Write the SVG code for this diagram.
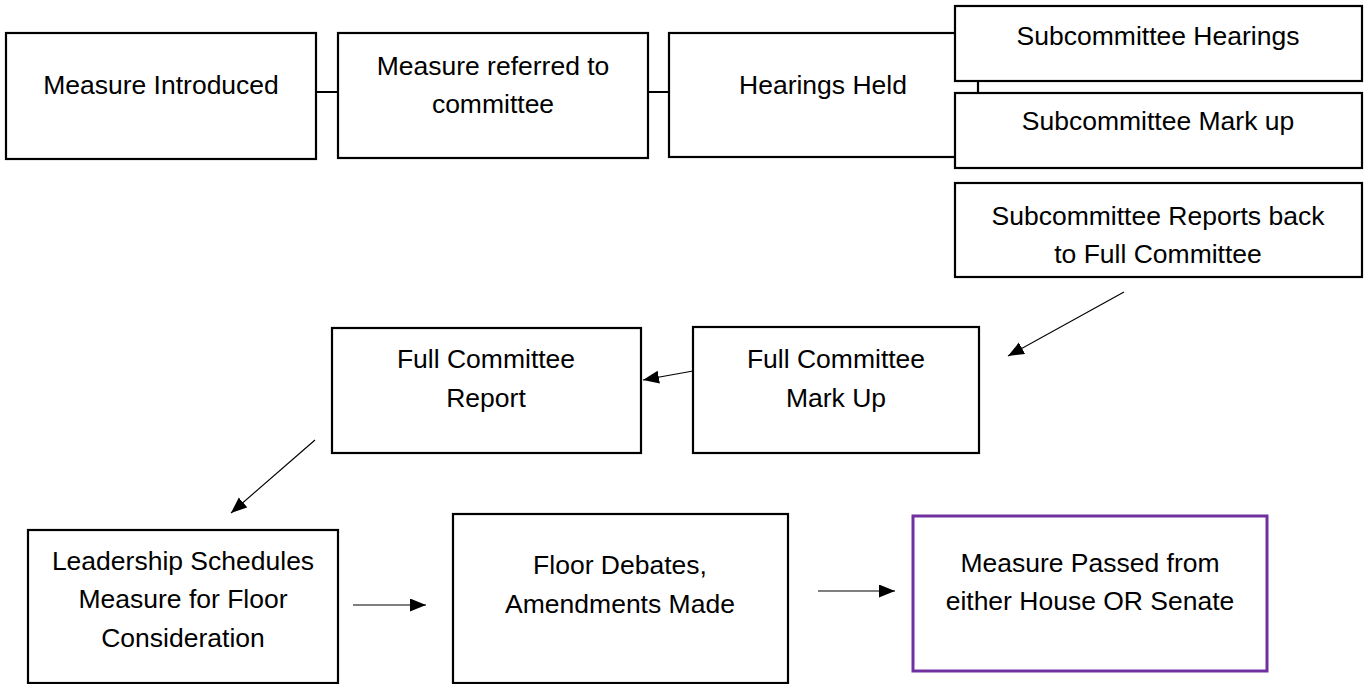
<svg xmlns="http://www.w3.org/2000/svg" width="1364" height="684" viewBox="0 0 1364 684">
<style>
.box{fill:#fff;stroke:#000;stroke-width:2.2}
.pbox{fill:#fff;stroke:#7030A0;stroke-width:3}
.t{font-family:"Liberation Sans",Arial,sans-serif;font-size:26.5px;fill:#000;text-anchor:middle}
.c{stroke:#000;stroke-width:2;fill:none}
.a{stroke:#000;stroke-width:1.2;fill:none;marker-end:url(#ah)}
</style>
<defs>
<marker id="ah" markerUnits="userSpaceOnUse" markerWidth="18" markerHeight="14" refX="16" refY="6.5" orient="auto">
<path d="M0,0 L16,6.5 L0,13 Z" fill="#000"/>
</marker>
</defs>
<g id="connectors">
<line class="c" x1="316" y1="92" x2="338" y2="92"/>
<line class="c" x1="648" y1="92" x2="669" y2="92"/>
<line class="a" x1="1124" y1="292" x2="1008" y2="356"/>
<line class="a" x1="693" y1="371" x2="643" y2="380"/>
<line class="a" x1="315" y1="440" x2="231" y2="513"/>
<line class="a" x1="353" y1="605" x2="426" y2="605"/>
<line class="a" x1="818" y1="591" x2="895" y2="591"/>
</g>
<g id="n1"><rect class="box" x="6" y="33" width="310" height="126"/><text class="t" x="161" y="94">Measure Introduced</text></g>
<g id="n2"><rect class="box" x="338" y="33" width="310" height="125"/><text class="t" x="493" y="75">Measure referred to</text><text class="t" x="493" y="113">committee</text></g>
<g id="n3"><rect class="box" x="669" y="33" width="309" height="124"/><text class="t" x="823" y="94">Hearings Held</text></g>
<g id="n4"><rect class="box" x="955" y="6" width="407" height="75"/><text class="t" x="1158" y="45">Subcommittee Hearings</text></g>
<g id="n5"><rect class="box" x="955" y="93" width="407" height="75"/><text class="t" x="1158" y="130">Subcommittee Mark up</text></g>
<g id="n6"><rect class="box" x="955" y="183" width="407" height="94"/><text class="t" x="1158" y="225">Subcommittee Reports back</text><text class="t" x="1158" y="263">to Full Committee</text></g>
<g id="n7"><rect class="box" x="693" y="327" width="286" height="126"/><text class="t" x="836" y="368">Full Committee</text><text class="t" x="836" y="407">Mark Up</text></g>
<g id="n8"><rect class="box" x="332" y="328" width="309" height="125"/><text class="t" x="486" y="368">Full Committee</text><text class="t" x="486" y="407">Report</text></g>
<g id="n9"><rect class="box" x="28" y="530" width="310" height="153"/><text class="t" x="183" y="570">Leadership Schedules</text><text class="t" x="183" y="608">Measure for Floor</text><text class="t" x="183" y="647">Consideration</text></g>
<g id="n10"><rect class="box" x="453" y="514" width="335" height="169"/><text class="t" x="620" y="574">Floor Debates,</text><text class="t" x="620" y="613">Amendments Made</text></g>
<g id="n11"><rect class="pbox" x="913" y="516" width="354" height="155"/><text class="t" x="1090" y="572">Measure Passed from</text><text class="t" x="1090" y="610">either House OR Senate</text></g>
</svg>
